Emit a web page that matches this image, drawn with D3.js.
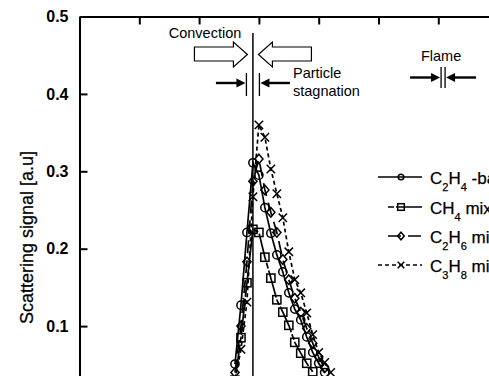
<!DOCTYPE html>
<html>
<head>
  <meta charset="utf-8">
  <title>Scattering signal</title>
  <script src="https://d3js.org/d3.v7.min.js"></script>
  <style>
    body { margin: 0; background: #fff; }
    svg { display: block; overflow: hidden; font-family: Arial, "Liberation Sans", sans-serif; }
  </style>
</head>
<body>
  <svg width="489" height="376"></svg>

  <script>
    // distance [mm] and signal for each mixture
    const xC2H4 = [2.6, 2.7, 2.8, 2.9, 3.0, 3.1, 3.2, 3.3, 3.4, 3.5, 3.6, 3.7, 3.8, 3.9, 4.0, 4.1];
    const yC2H4 = [0.051, 0.127, 0.221, 0.311, 0.295, 0.253, 0.220, 0.192, 0.170, 0.143, 0.122, 0.108, 0.086, 0.066, 0.052, 0.040];

    const xCH4 = [2.6, 2.7, 2.8, 2.9, 3.0, 3.1, 3.2, 3.3, 3.4, 3.5, 3.6, 3.7, 3.8, 3.9];
    const yCH4 = [0.030, 0.085, 0.156, 0.225, 0.221, 0.189, 0.162, 0.134, 0.118, 0.101, 0.079, 0.065, 0.052, 0.041];

    const xC2H6 = [2.6, 2.7, 2.8, 2.9, 3.0, 3.1, 3.2, 3.3, 3.4, 3.5, 3.6, 3.7, 3.8, 3.9, 4.0, 4.1];
    const yC2H6 = [0.040, 0.100, 0.183, 0.287, 0.316, 0.276, 0.247, 0.221, 0.186, 0.160, 0.136, 0.118, 0.097, 0.078, 0.060, 0.046];

    const xC3H8 = [2.6, 2.7, 2.8, 2.9, 3.0, 3.1, 3.2, 3.3, 3.4, 3.5, 3.6, 3.7, 3.8, 3.9, 4.0, 4.1, 4.2];
    const yC3H8 = [0.030, 0.070, 0.131, 0.267, 0.360, 0.344, 0.303, 0.271, 0.240, 0.196, 0.160, 0.143, 0.117, 0.089, 0.066, 0.053, 0.040];

    const yTicks = [0.1, 0.2, 0.3, 0.4, 0.5];
    const xTicks = [1, 2, 3, 4, 5, 6, 7];
    const stagnationX = 2.9;
    const flameX = 6.08;

    const series = [
      { label: ["C", "2", "H", "4", " -based"], x: xC2H4, y: yC2H4, sym: "circle", dash: null },
      { label: ["C", "", "H", "4", " mix"], x: xCH4, y: yCH4, sym: "square", dash: "6,2,28,2" },
      { label: ["C", "2", "H", "6", " mix"], x: xC2H6, y: yC2H6, sym: "diamond", dash: "13,7" },
      { label: ["C", "3", "H", "8", " mix"], x: xC3H8, y: yC3H8, sym: "cross", dash: "4,3" }
    ];

    const svg = d3.select("svg");
    const plotLeft = 79.5, plotTop = 16.5;

    const x = d3.scaleLinear().domain([0, 7]).range([plotLeft, plotLeft + 7 * 59.8]);
    const y = d3.scaleLinear().domain([0, 0.5]).range([403.5, plotTop]);

    // axes
    const yAxis = d3.axisLeft(y).tickValues(yTicks).tickSizeInner(-8).tickSizeOuter(0)
      .tickPadding(11).tickFormat(d3.format(".1f"));
    const gy = svg.append("g").attr("transform", `translate(${plotLeft},0)`).call(yAxis);
    gy.select(".domain").attr("stroke-width", 2);
    gy.selectAll(".tick line").attr("stroke-width", 2);
    gy.selectAll("text").attr("font-size", 16).attr("font-weight", "bold")
      .attr("font-family", "Arial, 'Liberation Sans', sans-serif").attr("fill", "#000");

    const xAxis = d3.axisTop(x).tickValues(xTicks).tickSizeInner(-8).tickSizeOuter(0).tickFormat("");
    const gx = svg.append("g").attr("transform", `translate(0,${plotTop})`).call(xAxis);
    gx.select(".domain").attr("stroke-width", 2);
    gx.selectAll(".tick line").attr("stroke-width", 2);

    svg.append("text")
      .attr("transform", `translate(33,${(148 + 327) / 2}) rotate(-90)`)
      .attr("text-anchor", "middle")
      .attr("font-size", 18)
      .attr("stroke", "#000").attr("stroke-width", 0.25)
      .text("Scattering signal [a.u]");

    // stagnation line
    const sx = x(stagnationX);
    svg.append("line").attr("x1", sx).attr("x2", sx).attr("y1", 33).attr("y2", 380)
      .attr("stroke", "#000").attr("stroke-width", 1.5);

    // symbols
    function drawSymbol(g, kind, cx, cy, s) {
      const st = { fill: "none", stroke: "#000", "stroke-width": 1.5 };
      let el;
      if (kind === "circle") {
        el = g.append("circle").attr("cx", cx).attr("cy", cy).attr("r", s);
      } else if (kind === "square") {
        el = g.append("rect").attr("x", cx - s).attr("y", cy - s).attr("width", 2 * s).attr("height", 2 * s);
      } else if (kind === "diamond") {
        el = g.append("path").attr("d", `M${cx},${cy - s * 1.15}L${cx + s},${cy}L${cx},${cy + s * 1.15}L${cx - s},${cy}Z`);
      } else {
        el = g.append("path").attr("d", `M${cx - s},${cy - s}L${cx + s},${cy + s}M${cx - s},${cy + s}L${cx + s},${cy - s}`);
      }
      Object.entries(st).forEach(([k, v]) => el.attr(k, v));
    }

    const line = d3.line().x(d => x(d[0])).y(d => y(d[1]));

    series.forEach(s => {
      const pts = s.x.map((v, i) => [v, s.y[i]]);
      const g = svg.append("g");
      g.append("path").datum(pts).attr("d", line)
        .attr("fill", "none").attr("stroke", "#000").attr("stroke-width", 1.7)
        .attr("stroke-dasharray", s.dash);
      pts.forEach(p => drawSymbol(g, s.sym, x(p[0]), y(p[1]), s.sym === "cross" ? 4.2 : 4.1));
    });

    // legend
    const legY = [177, 207, 236, 265];
    const legLine = [[378, 422], [388, 422], [388, 422], [378, 422]];
    series.forEach((s, i) => {
      const g = svg.append("g");
      const ly = legY[i];
      g.append("line").attr("x1", legLine[i][0]).attr("x2", legLine[i][1])
        .attr("y1", ly).attr("y2", ly).attr("stroke", "#000").attr("stroke-width", 1.7)
        .attr("stroke-dasharray", s.dash);
      drawSymbol(g, s.sym, 401, ly, s.sym === "circle" ? 2.8 : 3.3);
      const t = g.append("text").attr("x", 430).attr("y", ly + 6.5).attr("font-size", 17)
        .attr("stroke", "#000").attr("stroke-width", 0.25);
      const [a, b, c, d, e] = s.label;
      t.append("tspan").text(a);
      if (b) t.append("tspan").attr("dy", 7).attr("font-size", 11).text(b);
      t.append("tspan").attr("dy", b ? -7 : 0).text(c);
      t.append("tspan").attr("dy", 7).attr("font-size", 11).text(d);
      t.append("tspan").attr("dy", -7).text(e);
    });

    // annotations
    const ann = svg.append("g").attr("font-size", 14.5);
    ann.append("text").attr("x", 205).attr("y", 38).attr("text-anchor", "middle").text("Convection");

    function openArrow(tip, dir) {
      // dir = 1 points right, -1 points left
      const b = tip - dir * 14, e = tip - dir * 53;
      ann.append("path")
        .attr("d", `M${e},47L${b},47L${b},42L${tip},54.5L${b},67L${b},61L${e},61Z`)
        .attr("fill", "#fff").attr("stroke", "#000").attr("stroke-width", 1.2);
    }
    openArrow(sx - 5.5, 1);
    openArrow(sx + 5.5, -1);

    function solidArrow(tip, from, ay) {
      const dir = tip > from ? 1 : -1;
      ann.append("line").attr("x1", from).attr("x2", tip - dir * 6).attr("y1", ay).attr("y2", ay)
        .attr("stroke", "#000").attr("stroke-width", 2.4);
      ann.append("path")
        .attr("d", `M${tip},${ay}L${tip - dir * 9},${ay - 4.5}L${tip - dir * 9},${ay + 4.5}Z`)
        .attr("fill", "#000");
    }
    function bar(bx, y1, y2) {
      ann.append("line").attr("x1", bx).attr("x2", bx).attr("y1", y1).attr("y2", y2)
        .attr("stroke", "#000").attr("stroke-width", 1.3);
    }

    bar(sx - 6.5, 73, 96);
    bar(sx + 6.5, 73, 96);
    solidArrow(sx - 7.5, sx - 37, 83);
    solidArrow(sx + 7.5, sx + 37, 83);
    ann.append("text").attr("x", 293).attr("y", 78).text("Particle");
    ann.append("text").attr("x", 293).attr("y", 96).text("stagnation");

    const fx = x(flameX);
    ann.append("text").attr("x", fx - 2).attr("y", 61).attr("text-anchor", "middle").text("Flame");
    bar(fx - 2, 67, 88);
    bar(fx + 2, 67, 88);
    solidArrow(fx - 3, fx - 33, 77.5);
    solidArrow(fx + 3, fx + 33, 77.5);
  </script>
</body>
</html>
